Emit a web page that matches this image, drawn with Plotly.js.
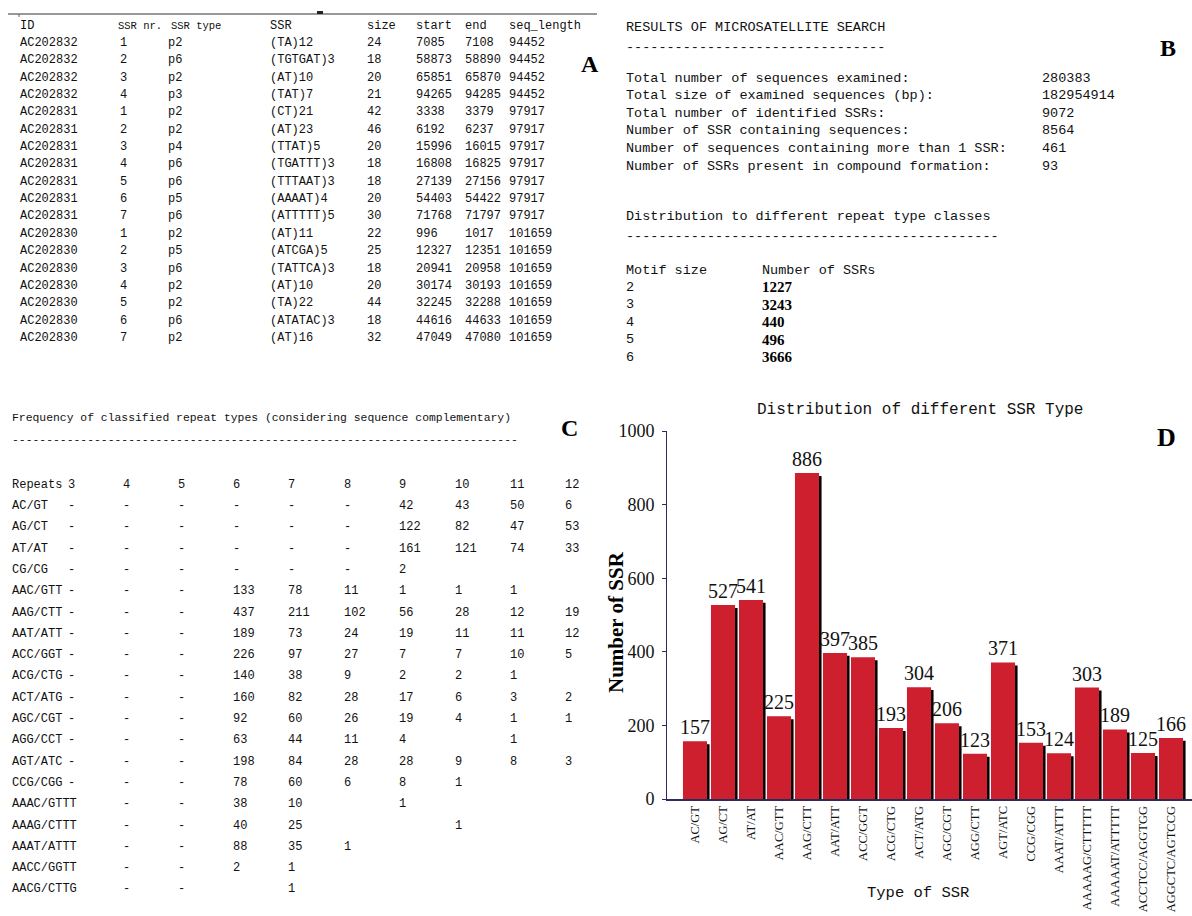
<!DOCTYPE html>
<html>
<head>
<meta charset="utf-8">
<script src="https://cdn.plot.ly/plotly-3.0.1.min.js"></script>
<style>html,body{margin:0;padding:0;background:#fff;}#chart{width:1192px;height:916px;}</style>
</head>
<body>
<div id="chart"></div>
<script>
// ---------- Panel D data ----------
const ssrTypeCategories = ['AC/GT','AG/CT','AT/AT','AAC/GTT','AAG/CTT','AAT/ATT','ACC/GGT','ACG/CTG','ACT/ATG','AGC/CGT','AGG/CTT','AGT/ATC','CCG/CGG','AAAT/ATTT','AAAAAG/CTTTTT','AAAAAT/ATTTTT','ACCTCC/AGGTGG','AGGCTC/AGTCCG'];
const ssrTypeCounts = [157,527,541,225,886,397,385,193,304,206,123,371,153,124,303,189,125,166];

// ---------- Panel A data ----------
const tableAHeader = ['ID','SSR nr.','SSR type','SSR','size','start','end','seq_length'];
const seqIds = ['AC202832','AC202832','AC202832','AC202832','AC202831','AC202831','AC202831','AC202831','AC202831','AC202831','AC202831','AC202830','AC202830','AC202830','AC202830','AC202830','AC202830','AC202830'];
const ssrNr = [1,2,3,4,1,2,3,4,5,6,7,1,2,3,4,5,6,7];
const ssrType = ['p2','p6','p2','p3','p2','p2','p4','p6','p6','p5','p6','p2','p5','p6','p2','p2','p6','p2'];
const ssrMotif = ['(TA)12','(TGTGAT)3','(AT)10','(TAT)7','(CT)21','(AT)23','(TTAT)5','(TGATTT)3','(TTTAAT)3','(AAAAT)4','(ATTTTT)5','(AT)11','(ATCGA)5','(TATTCA)3','(AT)10','(TA)22','(ATATAC)3','(AT)16'];
const ssrSize = [24,18,20,21,42,46,20,18,18,20,30,22,25,18,20,44,18,32];
const ssrStart = [7085,58873,65851,94265,3338,6192,15996,16808,27139,54403,71768,996,12327,20941,30174,32245,44616,47049];
const ssrEnd = [7108,58890,65870,94285,3379,6237,16015,16825,27156,54422,71797,1017,12351,20958,30193,32288,44633,47080];
const seqLength = [94452,94452,94452,94452,97917,97917,97917,97917,97917,97917,97917,101659,101659,101659,101659,101659,101659,101659];

// ---------- Panel B data ----------
const resultsTitle = 'RESULTS OF MICROSATELLITE SEARCH';
const summaryLabels = ['Total number of sequences examined:','Total size of examined sequences (bp):','Total number of identified SSRs:','Number of SSR containing sequences:','Number of sequences containing more than 1 SSR:','Number of SSRs present in compound formation:'];
const summaryValues = ['280383','182954914','9072','8564','461','93'];
const distTitle = 'Distribution to different repeat type classes';
const motifHeader = ['Motif size','Number of SSRs'];
const motifSizes = [2,3,4,5,6];
const motifCounts = [1227,3243,440,496,3666];

// ---------- Panel C data ----------
const freqTitle = 'Frequency of classified repeat types (considering sequence complementary)';
const repeatHeaders = ['3','4','5','6','7','8','9','10','11','12'];
const repeatTypes = ['AC/GT','AG/CT','AT/AT','CG/CG','AAC/GTT','AAG/CTT','AAT/ATT','ACC/GGT','ACG/CTG','ACT/ATG','AGC/CGT','AGG/CCT','AGT/ATC','CCG/CGG','AAAC/GTTT','AAAG/CTTT','AAAT/ATTT','AACC/GGTT','AACG/CTTG'];
const repeatCounts = [
  ['-','-','-','-','-','-','42','43','50','6'],
  ['-','-','-','-','-','-','122','82','47','53'],
  ['-','-','-','-','-','-','161','121','74','33'],
  ['-','-','-','-','-','-','2','','',''],
  ['-','-','-','133','78','11','1','1','1',''],
  ['-','-','-','437','211','102','56','28','12','19'],
  ['-','-','-','189','73','24','19','11','11','12'],
  ['-','-','-','226','97','27','7','7','10','5'],
  ['-','-','-','140','38','9','2','2','1',''],
  ['-','-','-','160','82','28','17','6','3','2'],
  ['-','-','-','92','60','26','19','4','1','1'],
  ['-','-','-','63','44','11','4','','1',''],
  ['-','-','-','198','84','28','28','9','8','3'],
  ['-','-','-','78','60','6','8','1','',''],
  ['','-','-','38','10','','1','','',''],
  ['','-','-','40','25','','','1','',''],
  ['','-','-','88','35','1','','','',''],
  ['','-','-','2','1','','','','',''],
  ['','-','-','','1','','','','','']
];

// ---------- helpers ----------
const W = 1192, H = 916;
const PX = x => x / W;
const PY = y => 1 - y / H;
const MONO = 'Liberation Mono, DejaVu Sans Mono, monospace';
const SERIF = 'Liberation Serif, DejaVu Serif, serif';
const ann = [];
function txt(x, y, s, opt) {
  opt = opt || {};
  ann.push({
    xref: 'paper', yref: 'paper', x: PX(x), y: PY(y), text: String(s), showarrow: false,
    xanchor: opt.xanchor || 'left', yanchor: 'middle', textangle: opt.angle || 0,
    font: {family: opt.family || MONO, size: opt.size || 12, color: opt.color || '#111'}
  });
}

// Panel A
const colAX = [18, 118, 166, 268, 365, 414, 463, 507];
const headAX = [18, 116, 169, 268, 365, 414, 463, 507];
tableAHeader.forEach((h, i) => txt(headAX[i], 26, h, {size: i === 1 || i === 2 ? 10.5 : 12}));
seqIds.forEach((id, r) => {
  const y = 43 + r * 17.35;
  const vals = [id, ssrNr[r], ssrType[r], ssrMotif[r], ssrSize[r], ssrStart[r], ssrEnd[r], seqLength[r]];
  vals.forEach((v, c) => txt(colAX[c], y, v, {size: 12}));
});
txt(590, 64, '<b>A</b>', {family: SERIF, size: 24, xanchor: 'center', color: '#000'});

// Panel B
txt(624, 28, resultsTitle, {size: 13.5});
txt(624, 47, '-'.repeat(32), {size: 13.5});
summaryLabels.forEach((l, i) => {
  const y = 78 + i * 17.6;
  txt(624, y, l, {size: 13.5});
  txt(1040, y, summaryValues[i], {size: 13.5});
});
txt(624, 217, distTitle, {size: 13.5});
txt(624, 236, '-'.repeat(46), {size: 13.5});
txt(624, 270, motifHeader[0], {size: 13.5});
txt(760, 270, motifHeader[1], {size: 13.5});
motifSizes.forEach((m, i) => {
  const y = 287 + i * 17.6;
  txt(624, y, m, {size: 13.5});
  txt(760, y, '<b>' + motifCounts[i] + '</b>', {family: SERIF, size: 15, color: '#000'});
});
txt(1168, 48, '<b>B</b>', {family: SERIF, size: 24, xanchor: 'center', color: '#000'});

// Panel C
txt(10, 418, freqTitle, {size: 11.4});
txt(10, 440, '-'.repeat(74), {size: 11.4});
txt(569, 428, '<b>C</b>', {family: SERIF, size: 24, xanchor: 'center', color: '#000'});
const colCX = [66, 121, 176, 231, 286, 342, 397, 453, 508, 563];
txt(10, 485, 'Repeats', {size: 12});
repeatHeaders.forEach((h, i) => txt(colCX[i], 485, h, {size: 12}));
repeatTypes.forEach((t, r) => {
  const y = 506 + r * 21.3;
  txt(10, y, t, {size: 12});
  repeatCounts[r].forEach((v, c) => { if (v !== '') txt(colCX[c], y, v, {size: 12}); });
});

// Panel D text
txt(920, 410, 'Distribution of different SSR Type', {size: 16, xanchor: 'center'});
txt(616, 622, '<b>Number of SSR</b>', {family: SERIF, size: 21, xanchor: 'center', angle: -90, color: '#000'});
txt(918, 893, 'Type of SSR', {size: 15.5, xanchor: 'center'});
txt(1166, 437, '<b>D</b>', {family: SERIF, size: 26, xanchor: 'center', color: '#000'});

const shapes = [
  {type: 'line', xref: 'paper', yref: 'paper', x0: PX(8), x1: PX(597), y0: PY(14), y1: PY(14), line: {color: '#333', width: 1}},
  {type: 'rect', xref: 'paper', yref: 'paper', x0: PX(317), x1: PX(323), y0: PY(14), y1: PY(11), fillcolor: '#222', line: {width: 0}},
  {type: 'line', xref: 'paper', yref: 'paper', x0: PX(19), x1: PX(19), y0: PY(14), y1: PY(17), line: {color: '#666', width: 1}}
];

const axisColor = '#2b2b5c';
const shadow = {
  type: 'bar', x: ssrTypeCategories, y: ssrTypeCounts, xaxis: 'x', yaxis: 'y',
  width: 0.86, offset: -0.34, marker: {color: '#000'}, hoverinfo: 'skip', showlegend: false
};
const bars = {
  type: 'bar', x: ssrTypeCategories, y: ssrTypeCounts, xaxis: 'x', yaxis: 'y2',
  width: 0.86, offset: -0.43, marker: {color: '#cd1f2e'},
  texttemplate: '%{y}', textposition: 'outside', cliponaxis: false, constraintext: 'none',
  textfont: {family: SERIF, size: 20, color: '#111'}, showlegend: false
};

const layout = {
  width: W, height: H, margin: {l: 0, r: 0, t: 0, b: 0},
  paper_bgcolor: '#fff', plot_bgcolor: 'rgba(0,0,0,0)',
  barmode: 'overlay', showlegend: false,
  xaxis: {
    domain: [PX(667), 1], type: 'category', range: [-1, 17.75],
    showline: true, linecolor: axisColor, linewidth: 2, ticks: '', showgrid: false, zeroline: false,
    tickangle: -90, tickfont: {family: SERIF, size: 12.5, color: '#111'}, automargin: false
  },
  yaxis: {
    domain: [PY(799), PY(431)], range: [8, 1008], visible: false, showgrid: false, zeroline: false, fixedrange: true
  },
  yaxis2: {
    overlaying: 'y', side: 'left', range: [0, 1000], dtick: 200,
    showline: true, linecolor: axisColor, linewidth: 1, ticks: 'outside', ticklen: 4, tickcolor: axisColor,
    showgrid: false, zeroline: false, ticklabelstandoff: 4,
    tickfont: {family: SERIF, size: 18, color: '#111'}, automargin: false
  },
  annotations: ann,
  shapes: shapes
};

Plotly.newPlot('chart', [shadow, bars], layout, {displayModeBar: false, staticPlot: true});
</script>
</body>
</html>
